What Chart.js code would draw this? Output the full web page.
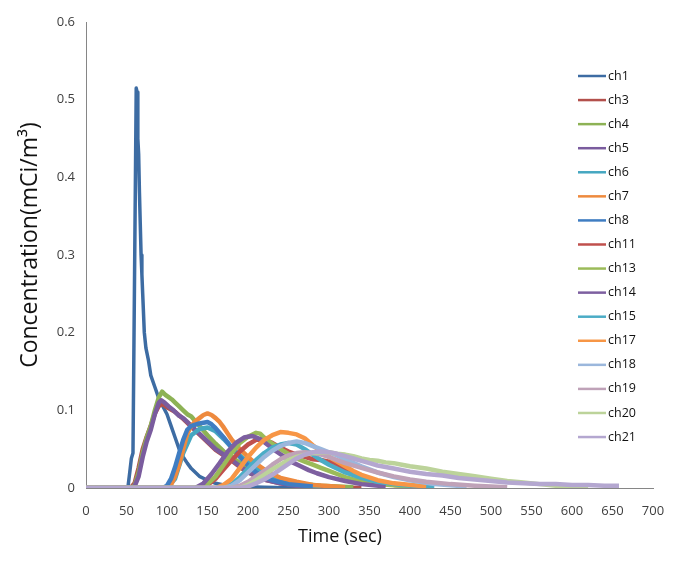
<!DOCTYPE html>
<html>
<head>
<meta charset="utf-8">
<script src="https://cdn.jsdelivr.net/npm/chart.js@4/dist/chart.umd.min.js"></script>
<style>
  body { margin: 0; background: #fff; }
  #wrap { width: 683px; height: 562px; }
</style>
</head>
<body>
<div id="wrap"><canvas id="concChart" width="683" height="562"></canvas></div>
<script>
// Channel names and time/concentration readings (sec, mCi/m3)
const channels = ['ch1', 'ch3', 'ch4', 'ch5', 'ch6', 'ch7', 'ch8', 'ch11', 'ch13', 'ch14', 'ch15', 'ch17', 'ch18', 'ch19', 'ch20', 'ch21'];

const ch1T = [0, 20, 40, 50, 52, 54, 56, 58, 62, 63, 64, 65, 66, 67, 68, 69, 70, 72, 74, 77, 80, 85, 90, 95, 100, 105, 110, 115, 120, 125, 130, 140, 150, 160, 170, 190, 220, 260];
const ch1C = [0, 0.001, 0, 0.001, 0.003, 0.02, 0.038, 0.045, 0.515, 0.51, 0.45, 0.43, 0.38, 0.34, 0.3, 0.275, 0.25, 0.2, 0.18, 0.165, 0.145, 0.13, 0.115, 0.105, 0.095, 0.08, 0.065, 0.05, 0.04, 0.032, 0.025, 0.015, 0.01, 0.006, 0.004, 0.002, 0.001, 0];

const ch3T = [0, 55, 60, 65, 70, 75, 80, 85, 90, 95, 100, 110, 120, 130, 140, 150, 160, 170, 180, 190, 200, 220, 240, 270, 300, 340];
const ch3C = [0, 0, 0.006, 0.026, 0.05, 0.066, 0.08, 0.096, 0.106, 0.108, 0.104, 0.098, 0.089, 0.079, 0.069, 0.059, 0.049, 0.042, 0.035, 0.027, 0.02, 0.011, 0.006, 0.003, 0.001, 0];

const ch4T = [0, 55, 60, 65, 70, 75, 80, 85, 90, 94, 98, 102, 106, 110, 115, 120, 125, 130, 135, 140, 150, 160, 170, 180, 190, 200, 210, 220, 240, 260, 290, 330];
const ch4C = [0, 0, 0.003, 0.02, 0.045, 0.065, 0.08, 0.1, 0.117, 0.124, 0.12, 0.117, 0.114, 0.11, 0.105, 0.1, 0.095, 0.092, 0.086, 0.08, 0.068, 0.057, 0.047, 0.04, 0.032, 0.026, 0.02, 0.016, 0.01, 0.006, 0.003, 0.001];

const ch5T = [0, 55, 60, 65, 70, 75, 80, 85, 90, 93, 97, 102, 108, 115, 120, 125, 130, 140, 150, 160, 170, 180, 190, 200, 210, 220, 240, 260, 300];
const ch5C = [0, 0, 0.002, 0.015, 0.04, 0.06, 0.075, 0.095, 0.11, 0.113, 0.11, 0.105, 0.1, 0.093, 0.09, 0.085, 0.08, 0.07, 0.06, 0.05, 0.043, 0.036, 0.028, 0.021, 0.015, 0.011, 0.006, 0.003, 0.001];

const ch6T = [0, 100, 110, 120, 130, 140, 150, 160, 170, 180, 190, 200, 210, 220, 240, 260, 290];
const ch6C = [0, 0, 0.012, 0.045, 0.068, 0.076, 0.078, 0.073, 0.063, 0.052, 0.042, 0.033, 0.025, 0.018, 0.01, 0.005, 0.002];

const ch7T = [0, 100, 105, 110, 115, 120, 125, 130, 135, 140, 145, 150, 155, 160, 165, 170, 175, 180, 190, 200, 210, 220, 230, 240, 260, 280, 320];
const ch7C = [0, 0, 0.004, 0.015, 0.03, 0.05, 0.07, 0.08, 0.086, 0.09, 0.094, 0.096, 0.094, 0.09, 0.085, 0.078, 0.07, 0.062, 0.05, 0.04, 0.031, 0.024, 0.018, 0.013, 0.008, 0.004, 0.001];

const ch8T = [0, 95, 100, 105, 110, 115, 120, 125, 130, 140, 150, 155, 160, 170, 180, 190, 200, 210, 220, 230, 250, 280];
const ch8C = [0, 0, 0.003, 0.012, 0.027, 0.045, 0.062, 0.075, 0.08, 0.083, 0.085, 0.082, 0.077, 0.065, 0.052, 0.04, 0.029, 0.02, 0.014, 0.01, 0.005, 0.002];

const ch11T = [0, 140, 150, 160, 170, 180, 190, 200, 210, 220, 230, 240, 250, 260, 270, 280, 290, 300, 310, 320, 330, 340, 360, 380, 420];
const ch11C = [0, 0, 0.004, 0.012, 0.024, 0.036, 0.047, 0.056, 0.062, 0.062, 0.058, 0.052, 0.047, 0.043, 0.04, 0.037, 0.036, 0.034, 0.03, 0.024, 0.018, 0.013, 0.007, 0.004, 0.001];

const ch13T = [0, 140, 150, 160, 170, 180, 190, 200, 210, 215, 220, 230, 240, 250, 260, 270, 280, 290, 300, 310, 320, 340, 360, 400];
const ch13C = [0, 0, 0.005, 0.015, 0.03, 0.045, 0.058, 0.066, 0.071, 0.07, 0.065, 0.057, 0.05, 0.044, 0.038, 0.034, 0.03, 0.026, 0.022, 0.018, 0.014, 0.008, 0.005, 0.002];

const ch14T = [0, 135, 145, 155, 165, 175, 185, 195, 205, 215, 225, 235, 245, 255, 265, 275, 285, 300, 320, 340, 370];
const ch14C = [0, 0, 0.006, 0.018, 0.032, 0.047, 0.058, 0.065, 0.067, 0.063, 0.055, 0.047, 0.04, 0.033, 0.028, 0.023, 0.019, 0.014, 0.009, 0.005, 0.002];

const ch15T = [0, 170, 180, 190, 200, 210, 220, 230, 240, 250, 260, 270, 280, 290, 300, 320, 340, 360, 390, 430];
const ch15C = [0, 0, 0.005, 0.014, 0.025, 0.036, 0.045, 0.052, 0.056, 0.058, 0.056, 0.05, 0.043, 0.036, 0.03, 0.02, 0.013, 0.008, 0.004, 0.001];

const ch17T = [0, 160, 170, 180, 190, 200, 210, 220, 230, 240, 250, 260, 270, 280, 290, 300, 310, 320, 330, 340, 360, 380, 420];
const ch17C = [0, 0, 0.004, 0.012, 0.026, 0.04, 0.052, 0.062, 0.068, 0.072, 0.071, 0.069, 0.064, 0.055, 0.047, 0.04, 0.034, 0.028, 0.022, 0.017, 0.01, 0.006, 0.002];

const ch18T = [0, 170, 180, 190, 200, 210, 220, 230, 240, 250, 260, 270, 280, 290, 300, 310, 320, 340, 360, 380, 400, 430, 470];
const ch18C = [0, 0, 0.003, 0.01, 0.02, 0.03, 0.04, 0.048, 0.054, 0.058, 0.06, 0.058, 0.054, 0.05, 0.046, 0.042, 0.037, 0.028, 0.02, 0.014, 0.01, 0.005, 0.002];

const ch19T = [0, 180, 190, 200, 210, 220, 230, 240, 250, 260, 270, 280, 290, 300, 310, 320, 340, 360, 380, 400, 420, 450, 480, 520];
const ch19C = [0, 0, 0.003, 0.008, 0.015, 0.022, 0.03, 0.037, 0.042, 0.045, 0.046, 0.045, 0.043, 0.04, 0.036, 0.032, 0.026, 0.02, 0.015, 0.011, 0.008, 0.005, 0.003, 0.001];

const ch20T = [0, 190, 200, 210, 220, 230, 240, 250, 260, 270, 280, 290, 300, 310, 320, 330, 340, 350, 360, 370, 380, 390, 400, 420, 440, 460, 480, 500, 520, 540, 560, 580, 600, 620];
const ch20C = [0, 0, 0.004, 0.01, 0.017, 0.024, 0.03, 0.036, 0.04, 0.043, 0.045, 0.046, 0.046, 0.044, 0.043, 0.041, 0.038, 0.036, 0.035, 0.033, 0.032, 0.03, 0.028, 0.025, 0.021, 0.018, 0.015, 0.012, 0.009, 0.007, 0.005, 0.003, 0.002, 0.001];

const ch21T = [0, 190, 200, 210, 220, 230, 240, 250, 260, 270, 280, 290, 300, 310, 320, 330, 340, 350, 360, 380, 400, 420, 440, 460, 480, 500, 520, 540, 560, 580, 600, 620, 640, 658];
const ch21C = [0, 0, 0.002, 0.006, 0.011, 0.017, 0.024, 0.031, 0.038, 0.043, 0.046, 0.047, 0.046, 0.044, 0.041, 0.038, 0.035, 0.032, 0.029, 0.025, 0.021, 0.018, 0.016, 0.013, 0.011, 0.009, 0.007, 0.006, 0.005, 0.005, 0.004, 0.004, 0.003, 0.003];

const times = [ch1T, ch3T, ch4T, ch5T, ch6T, ch7T, ch8T, ch11T, ch13T, ch14T, ch15T, ch17T, ch18T, ch19T, ch20T, ch21T];
const concs = [ch1C, ch3C, ch4C, ch5C, ch6C, ch7C, ch8C, ch11C, ch13C, ch14C, ch15C, ch17C, ch18C, ch19C, ch20C, ch21C];

// Line colours, one per channel
const colors = ['#3D6CA3', '#B3504C', '#8DB255', '#7A5C9E', '#45A7C1', '#EE8A3E', '#3F7DC2', '#C0504D',
                '#9BBB59', '#7D5FA0', '#4BACC6', '#F79646', '#9BB7DC', '#BFA2B8', '#BCD39A', '#B4A7D0'];

const FONT = "'Open Sans', 'Noto Sans', sans-serif";

// Legend and axis titles placed like the Excel original (legend sits inside the plot)
const excelDecor = {
  id: 'excelDecor',
  afterDraw(chart) {
    const ctx = chart.ctx;
    ctx.save();
    ctx.font = '12.5px ' + FONT;
    ctx.textBaseline = 'middle';
    ctx.textAlign = 'left';
    chart.data.datasets.forEach((ds, i) => {
      const y = 76 + i * 24.07;
      ctx.strokeStyle = ds.borderColor;
      ctx.lineWidth = 2.5;
      ctx.beginPath();
      ctx.moveTo(578, y);
      ctx.lineTo(606, y);
      ctx.stroke();
      ctx.fillStyle = '#111';
      ctx.fillText(ds.label, 608, y);
    });

    // axis titles
    ctx.fillStyle = '#111';
    ctx.textAlign = 'center';
    ctx.font = '18px ' + FONT;
    ctx.fillText('Time (sec)', 340, 537);
    ctx.translate(30, 245);
    ctx.rotate(-Math.PI / 2);
    ctx.font = '23px ' + FONT;
    ctx.fillText('Concentration(mCi/m³)', 0, 0);
    ctx.restore();
  }
};

function buildDatasets() {
  return channels.map((name, i) => ({
    label: name,
    data: times[i].map((t, j) => ({ x: t, y: concs[i][j] })),
    borderColor: colors[i],
    backgroundColor: colors[i],
    borderWidth: i === 0 ? 3.5 : 4.5,
    borderJoinStyle: 'round',
    pointRadius: 0,
    fill: false,
    tension: 0,
    order: -i   // later channels drawn on top
  }));
}

const ctx = document.getElementById('concChart').getContext('2d');
new Chart(ctx, {
  type: 'line',
  data: { datasets: buildDatasets() },
  options: {
    responsive: false,
    animation: false,
    layout: { padding: { top: 22, right: 30, left: 0, bottom: 0 } },
    plugins: {
      legend: { display: false },
      tooltip: { enabled: false }
    },
    scales: {
      x: {
        type: 'linear',
        min: 0,
        max: 700,
        grid: { display: false, drawTicks: false },
        border: { color: '#868686', width: 1 },
        ticks: { stepSize: 50, padding: 15, color: '#404040', font: { family: FONT, size: 13 }, maxRotation: 0 },
        afterFit(scale) { scale.height = 74; }
      },
      y: {
        min: 0,
        max: 0.6,
        grid: { display: false, drawTicks: false },
        border: { color: '#868686', width: 1 },
        ticks: { stepSize: 0.1, padding: 11, color: '#404040', font: { family: FONT, size: 13 } },
        afterFit(scale) { scale.width = 86; }
      }
    }
  },
  plugins: [excelDecor]
});
</script>
</body>
</html>
